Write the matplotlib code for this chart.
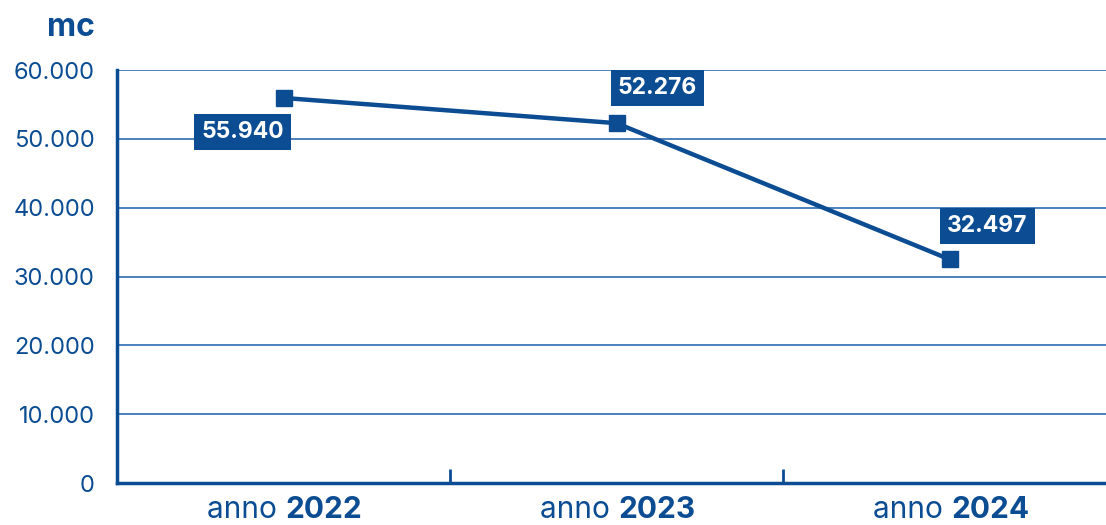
import matplotlib
matplotlib.use("Agg")
import matplotlib.pyplot as plt
from matplotlib.ticker import FuncFormatter

years = ["2022", "2023", "2024"]
volumes = [55940, 52276, 32497]
value_labels = ["55.940", "52.276", "32.497"]
label_offsets = [(-41, -34), (41, 35), (38, 33)]
y_ticks = [0, 10000, 20000, 30000, 40000, 50000, 60000]

dark_blue = "#0b4c92"
grid_blue = "#2d6bb0"

plt.rcParams['font.family'] = ['Inter', 'DejaVu Sans']

fig = plt.figure(figsize=(11.06, 5.25), dpi=100)
ax = fig.add_axes([117 / 1106, 1 - 483 / 525, (1116 - 117) / 1106, 413 / 525])

x = list(range(len(years)))
ax.plot(x, volumes, color=dark_blue, lw=3.2, marker='s', ms=12, zorder=3, clip_on=False)

for xi, v, lab, off in zip(x, volumes, value_labels, label_offsets):
    ax.annotate(lab, (xi, v), xytext=off, textcoords='offset pixels',
                ha='center', va='center', color='white', fontsize=16.5, fontweight='bold',
                bbox=dict(boxstyle='square,pad=0.3', fc=dark_blue, ec='none'), zorder=4)

ax.set_xlim(-0.5, 2.5)
ax.set_ylim(0, 60000)
ax.set_yticks(y_ticks)
ax.yaxis.set_major_formatter(FuncFormatter(lambda v, p: f"{int(v):,}".replace(",", ".")))
ax.tick_params(axis='y', length=0, pad=16, labelsize=17, labelcolor=dark_blue)
ax.grid(axis='y', color=grid_blue, lw=1.2)
ax.set_axisbelow(True)

ax.set_xticks([0.5, 1.5])
ax.set_xticklabels([])
ax.tick_params(axis='x', direction='in', length=10, width=2, color=dark_blue)

for s in ['top', 'right']:
    ax.spines[s].set_visible(False)
for s in ['left', 'bottom']:
    ax.spines[s].set_color(dark_blue)
    ax.spines[s].set_linewidth(2.5)

for xi, yr in zip(x, years):
    ax.annotate("anno ", (xi, 0), xytext=(2, -27), textcoords='offset pixels',
                ha='right', va='center', fontsize=21.5, color=dark_blue)
    ax.annotate(yr, (xi, 0), xytext=(2, -27), textcoords='offset pixels',
                ha='left', va='center', fontsize=21.5, fontweight='bold', color=dark_blue)

fig.text(47 / 1106, 1 - 27 / 525, "mc", fontsize=23, fontweight='bold', color=dark_blue,
         ha='left', va='center')

fig.savefig("out.png", dpi=100)
